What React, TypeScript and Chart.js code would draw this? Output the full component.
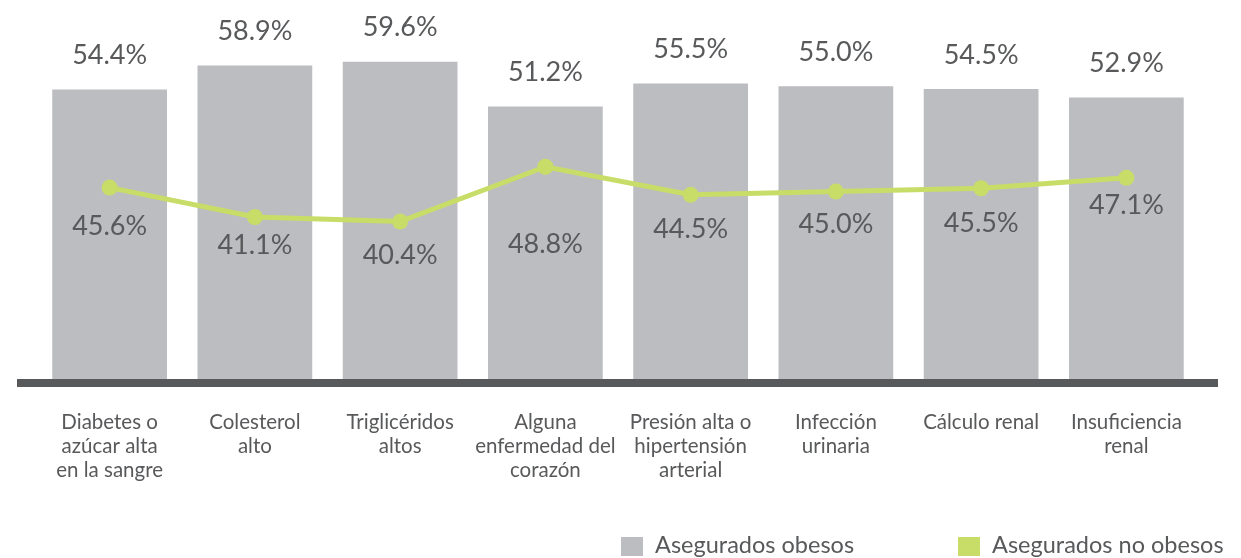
import React, { useEffect, useRef } from "react";
import { Chart, registerables } from "chart.js";

Chart.register(...registerables);

const categories: string[][] = [
  ["Diabetes o", "azúcar alta", "en la sangre"],
  ["Colesterol", "alto"],
  ["Triglicéridos", "altos"],
  ["Alguna", "enfermedad del", "corazón"],
  ["Presión alta o", "hipertensión", "arterial"],
  ["Infección", "urinaria"],
  ["Cálculo renal"],
  ["Insuficiencia", "renal"],
];
const obesos: number[] = [54.4, 58.9, 59.6, 51.2, 55.5, 55.0, 54.5, 52.9];
const noObesos: number[] = [45.6, 41.1, 40.4, 48.8, 44.5, 45.0, 45.5, 47.1];
const seriesNames: string[] = ["Asegurados obesos", "Asegurados no obesos"];

// styling / layout config (not data)
const GRAY = "#bcbdc0";
const GREEN = "#c8dc68";
const TEXT = "#58595b";
const AXIS = "#58595b";
const FONT = "Lato, 'DejaVu Sans', sans-serif";
const lineLabelNudge = [39, 28, 34, 78, 34, 33, 35, 27];

const overlayPlugin = {
  id: "overlay",
  afterDatasetsDraw(chart: any) {
    const ctx = chart.ctx;
    const area = chart.chartArea;
    ctx.save();
    // axis line
    ctx.fillStyle = AXIS;
    ctx.fillRect(area.left - 20, area.bottom, area.right - area.left + 39, 8);

    // bar value labels
    const barMeta = chart.getDatasetMeta(1);
    ctx.fillStyle = TEXT;
    ctx.textAlign = "center";
    ctx.textBaseline = "middle";
    ctx.font = `27px ${FONT}`;
    barMeta.data.forEach((el: any, i: number) => {
      ctx.fillText(obesos[i].toFixed(1) + "%", el.x, el.y - 34);
    });

    // line value labels
    const lineMeta = chart.getDatasetMeta(0);
    lineMeta.data.forEach((el: any, i: number) => {
      const bx = barMeta.data[i].x;
      ctx.fillText(noObesos[i].toFixed(1) + "%", bx, el.y + lineLabelNudge[i]);
    });

    // category labels
    const xScale = chart.scales.x;
    ctx.font = `20.5px ${FONT}`;
    categories.forEach((lines, i) => {
      const x = xScale.getPixelForValue(i);
      lines.forEach((ln, j) => {
        ctx.fillText(ln, x, area.bottom + 43 + j * 24);
      });
    });

    // legend
    ctx.textAlign = "left";
    ctx.textBaseline = "alphabetic";
    ctx.font = `23.5px ${FONT}`;
    const legendItems = [
      { color: GRAY, x: 621 },
      { color: GREEN, x: 958 },
    ];
    legendItems.forEach((it, i) => {
      ctx.fillStyle = it.color;
      ctx.fillRect(it.x, 537, 22, 19);
      ctx.fillStyle = TEXT;
      ctx.fillText(seriesNames[i], it.x + 34, 553);
    });
    ctx.restore();
  },
};

export default function App() {
  const ref = useRef<HTMLCanvasElement | null>(null);
  useEffect(() => {
    if (!ref.current) return;
    const chart = new Chart(ref.current, {
      type: "bar",
      data: {
        labels: categories.map((c) => c.join(" ")),
        datasets: [
          {
            type: "line",
            label: seriesNames[1],
            data: noObesos,
            yAxisID: "y2",
            borderColor: GREEN,
            backgroundColor: GREEN,
            borderWidth: 5,
            pointRadius: 8,
            pointBorderWidth: 0,
            pointBackgroundColor: GREEN,
            tension: 0,
            order: 0,
          } as any,
          {
            type: "bar",
            label: seriesNames[0],
            data: obesos,
            yAxisID: "y",
            backgroundColor: GRAY,
            barPercentage: 0.79,
            categoryPercentage: 1,
            order: 1,
          },
        ],
      },
      options: {
        responsive: true,
        maintainAspectRatio: false,
        animation: false,
        layout: { padding: { left: 37, right: 42, top: 5, bottom: 179 } },
        scales: {
          x: { display: false, offset: true },
          y: { display: false, min: 0, max: 69.7 },
          y2: { display: false, min: 16.3, max: 73.1, position: "right" },
        },
        plugins: {
          legend: { display: false },
          tooltip: { enabled: false },
        },
      },
      plugins: [overlayPlugin],
    });
    return () => chart.destroy();
  }, []);
  return (
    <div style={{ position: "absolute", left: 0, top: 0, width: 1241, height: 558, background: "#fff" }}>
      <canvas ref={ref} />
    </div>
  );
}
